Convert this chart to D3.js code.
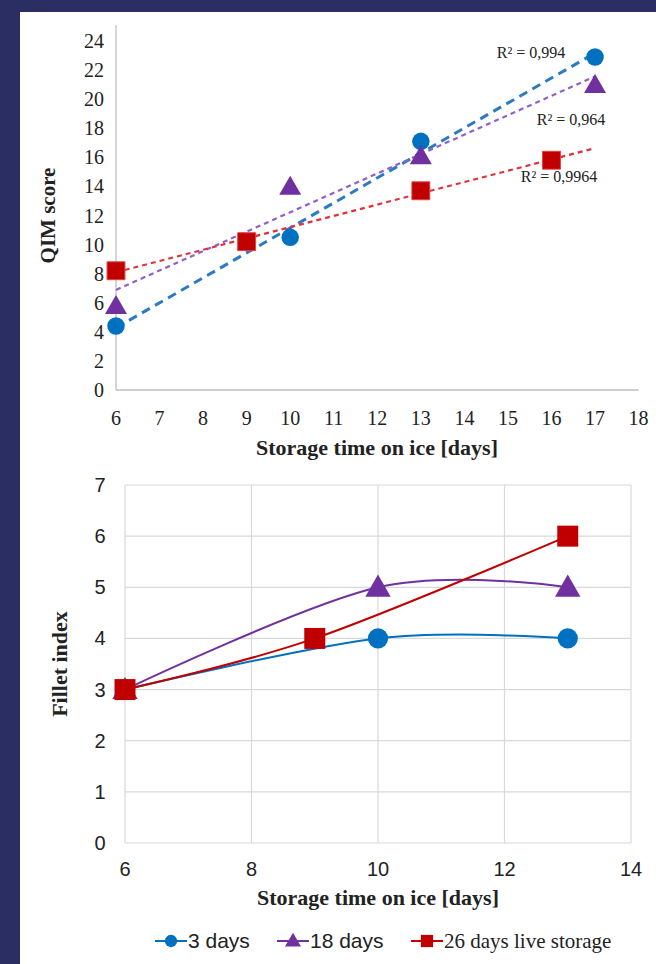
<!DOCTYPE html>
<html lang="en">
<head>
    <meta charset="UTF-8">
    <title>QIM score and fillet index</title>
    <script src="https://cdn.jsdelivr.net/npm/d3@7"></script>
    <style>
        html, body {
            margin: 0;
            padding: 0;
            width: 100%;
            height: 100%;
            overflow: hidden;
            background: #2b2e62;
        }
        text { fill: #222; }
    </style>
</head>
<body>
</body>
<script>
    let width = 656;
    let height = 964;

    // data
    let series = ['3 days', '18 days', '26 days live storage'];
    let colors = ['#0070c0', '#7030a0', '#c00000'];
    let trendColors = ['#2a7bc4', '#9060c8', '#e0323c'];
    let shapes = [d3.symbolCircle, d3.symbolTriangle, d3.symbolSquare];

    // top chart: QIM score
    let qimDays = [[6, 10, 13, 17], [6, 10, 13, 17], [6, 9, 13, 16]];
    let qimScores = [[4.4, 10.5, 17.1, 22.9], [5.8, 14, 16.1, 21], [8.2, 10.2, 13.7, 15.8]];
    let r2Labels = ['R² = 0,994', 'R² = 0,964', 'R² = 0,9964'];
    let qimXTicks = d3.range(6, 19);
    let qimYTicks = d3.range(0, 25, 2);

    // bottom chart: fillet index
    let filletDays = [[6, 10, 13], [6, 10, 13], [6, 9, 13]];
    let filletIndex = [[3, 4, 4], [3, 5, 5], [3, 4, 6]];
    let filletXTicks = [6, 8, 10, 12, 14];
    let filletYTicks = d3.range(0, 8);

    let svg = d3.select('body').append('svg')
        .attr('width', width)
        .attr('height', height);

    svg.append('rect').attr('width', width).attr('height', height).attr('fill', '#2b2e62');
    svg.append('rect').attr('x', 20).attr('y', 12).attr('width', width - 20).attr('height', height - 12).attr('fill', '#fff');

    let serif = "'Liberation Serif', 'Times New Roman', serif";
    let sans = "'Liberation Sans', Arial, sans-serif";

    // ---------- top chart ----------
    let x1 = d3.scaleLinear().domain([6, 18]).range([116, 638.6]);
    let y1 = d3.scaleLinear().domain([0, 24]).range([390, 41]);

    let gTop = svg.append('g');

    gTop.append('line')
        .attr('x1', x1(6)).attr('x2', x1(6))
        .attr('y1', y1(0)).attr('y2', y1(25.1))
        .attr('stroke', '#bfbfbf').attr('stroke-width', 1.3);
    gTop.append('line')
        .attr('x1', x1(6)).attr('x2', x1(18))
        .attr('y1', y1(0)).attr('y2', y1(0))
        .attr('stroke', '#bfbfbf').attr('stroke-width', 1.3);

    gTop.selectAll('text.ytick').data(qimYTicks).enter().append('text')
        .attr('class', 'ytick')
        .attr('x', 104).attr('y', d => y1(d))
        .attr('dy', '0.35em')
        .attr('text-anchor', 'end')
        .style('font', `20px ${serif}`)
        .text(d => d);

    gTop.selectAll('text.xtick').data(qimXTicks).enter().append('text')
        .attr('class', 'xtick')
        .attr('x', d => x1(d)).attr('y', 425)
        .attr('text-anchor', 'middle')
        .style('font', `20px ${serif}`)
        .text(d => d);

    gTop.append('text')
        .attr('x', 377).attr('y', 455)
        .attr('text-anchor', 'middle')
        .style('font', `bold 22px ${serif}`)
        .text('Storage time on ice [days]');

    gTop.append('text')
        .attr('transform', `translate(55, ${y1(12)}) rotate(-90)`)
        .attr('text-anchor', 'middle')
        .style('font', `bold 21px ${serif}`)
        .text('QIM score');

    // linear trendlines from x = 6 to 17
    let dashes = ['9,6', '5,4', '5,4'];
    let widths = [3, 2.2, 2.2];
    qimDays.forEach((xs, i) => {
        let ys = qimScores[i];
        let mx = d3.mean(xs), my = d3.mean(ys);
        let slope = d3.sum(xs, (x, j) => (x - mx) * (ys[j] - my)) / d3.sum(xs, x => (x - mx) * (x - mx));
        let f = x => my + slope * (x - mx);
        gTop.append('line')
            .attr('x1', x1(6)).attr('y1', y1(f(6)))
            .attr('x2', x1(17)).attr('y2', y1(f(17)))
            .attr('stroke', trendColors[i])
            .attr('stroke-width', widths[i])
            .attr('stroke-dasharray', dashes[i]);
    });

    let topSizes = [240, 210, 320];
    qimDays.forEach((xs, i) => {
        gTop.selectAll(null).data(xs.map((x, j) => [x, qimScores[i][j]])).enter().append('path')
            .attr('transform', d => `translate(${x1(d[0])}, ${y1(d[1]) + (i === 1 ? 2 : 0)})`)
            .attr('d', d3.symbol().type(shapes[i]).size(topSizes[i]))
            .attr('fill', colors[i])
            .attr('stroke', i === 2 ? '#e04040' : 'none')
            .attr('stroke-width', 1);
    });

    let r2Pos = [[531, 58], [571, 125], [559, 182]];
    gTop.selectAll('text.r2').data(r2Labels).enter().append('text')
        .attr('class', 'r2')
        .attr('x', (d, i) => r2Pos[i][0]).attr('y', (d, i) => r2Pos[i][1])
        .attr('text-anchor', 'middle')
        .style('font', `16px ${serif}`)
        .text(d => d);

    // ---------- bottom chart ----------
    let x2 = d3.scaleLinear().domain([6, 14]).range([125, 631]);
    let y2 = d3.scaleLinear().domain([0, 7]).range([843, 485]);

    let gBot = svg.append('g');

    gBot.selectAll('line.hgrid').data(filletYTicks).enter().append('line')
        .attr('class', 'hgrid')
        .attr('x1', x2(6)).attr('x2', x2(14))
        .attr('y1', d => y2(d)).attr('y2', d => y2(d))
        .attr('stroke', '#d9d9d9').attr('stroke-width', 1.2);
    gBot.selectAll('line.vgrid').data(filletXTicks).enter().append('line')
        .attr('class', 'vgrid')
        .attr('x1', d => x2(d)).attr('x2', d => x2(d))
        .attr('y1', y2(0)).attr('y2', y2(7))
        .attr('stroke', '#d9d9d9').attr('stroke-width', 1.2);

    gBot.selectAll('text.ytick').data(filletYTicks).enter().append('text')
        .attr('class', 'ytick')
        .attr('x', 100).attr('y', d => y2(d))
        .attr('dy', '0.35em')
        .attr('text-anchor', 'middle')
        .style('font', `20px ${sans}`)
        .text(d => d);

    gBot.selectAll('text.xtick').data(filletXTicks).enter().append('text')
        .attr('class', 'xtick')
        .attr('x', d => x2(d)).attr('y', 876)
        .attr('text-anchor', 'middle')
        .style('font', `20px ${sans}`)
        .text(d => d);

    gBot.append('text')
        .attr('x', 378).attr('y', 905)
        .attr('text-anchor', 'middle')
        .style('font', `bold 22px ${serif}`)
        .text('Storage time on ice [days]');

    gBot.append('text')
        .attr('transform', `translate(67, ${y2(3.5)}) rotate(-90)`)
        .attr('text-anchor', 'middle')
        .style('font', `bold 22px ${serif}`)
        .text('Fillet index');

    let line = d3.line()
        .x(d => x2(d[0]))
        .y(d => y2(d[1]))
        .curve(d3.curveCardinal.tension(0));

    let botSizes = [320, 280, 440];
    filletDays.forEach((xs, i) => {
        let pts = xs.map((x, j) => [x, filletIndex[i][j]]);
        gBot.append('path')
            .attr('d', line(pts))
            .attr('fill', 'none')
            .attr('stroke', colors[i])
            .attr('stroke-width', 2);
    });
    filletDays.forEach((xs, i) => {
        let pts = xs.map((x, j) => [x, filletIndex[i][j]]);
        gBot.selectAll(null).data(pts).enter().append('path')
            .attr('transform', d => `translate(${x2(d[0])}, ${y2(d[1]) + (i === 1 ? 2 : 0)})`)
            .attr('d', d3.symbol().type(shapes[i]).size(botSizes[i]))
            .attr('fill', colors[i]);
    });

    // legend
    let legendX = [155, 277, 411];
    let legendFonts = [sans, sans, serif];
    let legend = svg.append('g').attr('transform', 'translate(0, 941)');
    series.forEach((name, i) => {
        let g = legend.append('g').attr('transform', `translate(${legendX[i]}, 0)`);
        g.append('line').attr('x1', 0).attr('x2', 32).attr('y1', 0).attr('y2', 0)
            .attr('stroke', colors[i]).attr('stroke-width', 2);
        g.append('path').attr('transform', `translate(16, ${i === 1 ? 1 : 0})`)
            .attr('d', d3.symbol().type(shapes[i]).size([120, 110, 150][i]))
            .attr('fill', colors[i]);
        g.append('text').attr('x', 33).attr('y', 0).attr('dy', '0.35em')
            .style('font', `21px ${legendFonts[i]}`)
            .text(name);
    });
</script>
</html>
